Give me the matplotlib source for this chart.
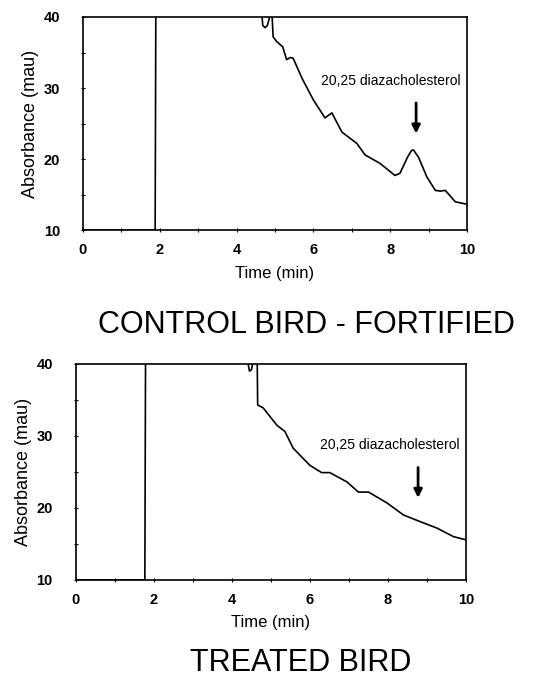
import matplotlib
matplotlib.use("Agg")
import matplotlib.pyplot as plt
from matplotlib.ticker import MultipleLocator

plt.rcParams['font.family'] = ['Liberation Sans', 'DejaVu Sans']

# Cromatograma 1: ave control fortificada (valores > 40 quedan fuera de escala)
tiempo_control = [0.0, 1.88, 1.90, 1.98, 4.66, 4.68, 4.74, 4.80, 4.86, 4.92, 4.95, 5.05, 5.20,
                  5.30, 5.40, 5.47, 5.70, 6.00, 6.30, 6.40, 6.48, 6.74, 7.13, 7.34, 7.73,
                  8.12, 8.25, 8.45, 8.55, 8.60, 8.73, 8.95, 9.17, 9.30, 9.43, 9.69, 9.95, 10.0]
abs_control = [10.0, 10.0, 45.0, 45.0, 40.2, 38.8, 38.5, 38.8, 40.0, 40.5, 37.2, 36.5, 35.8,
               34.0, 34.3, 34.2, 31.4, 28.3, 25.8, 26.2, 26.5, 23.8, 22.2, 20.6, 19.4,
               17.7, 18.0, 20.3, 21.2, 21.3, 20.3, 17.5, 15.6, 15.5, 15.6, 14.0, 13.7, 13.7]

# Cromatograma 2: ave tratada
tiempo_tratada = [0.0, 1.77, 1.79, 1.85, 4.41, 4.45, 4.50, 4.54, 4.60, 4.64, 4.66, 4.80, 5.15,
                  5.36, 5.57, 6.00, 6.30, 6.51, 6.95, 7.24, 7.50, 7.97, 8.40, 8.82, 9.25,
                  9.68, 9.97, 10.0]
abs_tratada = [10.0, 10.0, 45.0, 45.0, 40.2, 39.0, 39.2, 40.2, 45.0, 45.0, 34.3, 33.9, 31.5,
               30.6, 28.3, 25.9, 24.9, 24.9, 23.6, 22.2, 22.2, 20.7, 19.0, 18.1, 17.2,
               16.0, 15.6, 15.6]

etiqueta_pico = '20,25 diazacholesterol'
# (x de la flecha, y inicio, y fin, x del texto, y del texto)
flecha_control = (8.67, 28.3, 23.2, 8.0, 30.0)
flecha_tratada = (8.77, 26.0, 21.0, 8.05, 27.8)

titulos = ['CONTROL BIRD - FORTIFIED', 'TREATED BIRD']


def dibujar(ax, t, a, flecha):
    ax.plot(t, a, color='black', lw=1.2)
    ax.set_xlim(0, 10)
    ax.set_ylim(10, 40)
    ax.xaxis.set_major_locator(MultipleLocator(2))
    ax.xaxis.set_minor_locator(MultipleLocator(1))
    ax.yaxis.set_major_locator(MultipleLocator(10))
    ax.yaxis.set_minor_locator(MultipleLocator(5))
    ax.tick_params(which='both', direction='inout', length=3, width=0.8)
    ax.tick_params(axis='y', which='major', pad=15, labelsize=10.5)
    ax.tick_params(axis='x', which='major', pad=8, labelsize=10.5)
    for lab in ax.get_xticklabels() + ax.get_yticklabels():
        lab.set_fontweight('bold')
    for sp in ax.spines.values():
        sp.set_linewidth(1.2)
    ax.set_xlabel('Time (min)', fontsize=12, labelpad=6)
    ax.set_ylabel('Absorbance (mau)', fontsize=13, labelpad=3)
    xf, y0, y1, xt, yt = flecha
    ax.annotate('', xy=(xf, y1), xytext=(xf, y0),
                arrowprops=dict(arrowstyle='-|>', color='black', lw=2, mutation_scale=12))
    ax.text(xt, yt, etiqueta_pico, fontsize=10, ha='center', va='bottom')


fig = plt.figure(figsize=(5.49, 6.79), dpi=100)
ax1 = fig.add_axes([0.151, 0.661, 0.700, 0.314])
ax2 = fig.add_axes([0.138, 0.146, 0.711, 0.318])

dibujar(ax1, tiempo_control, abs_control, flecha_control)
dibujar(ax2, tiempo_tratada, abs_tratada, flecha_tratada)

fig.text(0.559, 0.521, titulos[0], fontsize=22, ha='center', va='center')
fig.text(0.547, 0.024, titulos[1], fontsize=22, ha='center', va='center')

fig.savefig('out.png', dpi=100)
